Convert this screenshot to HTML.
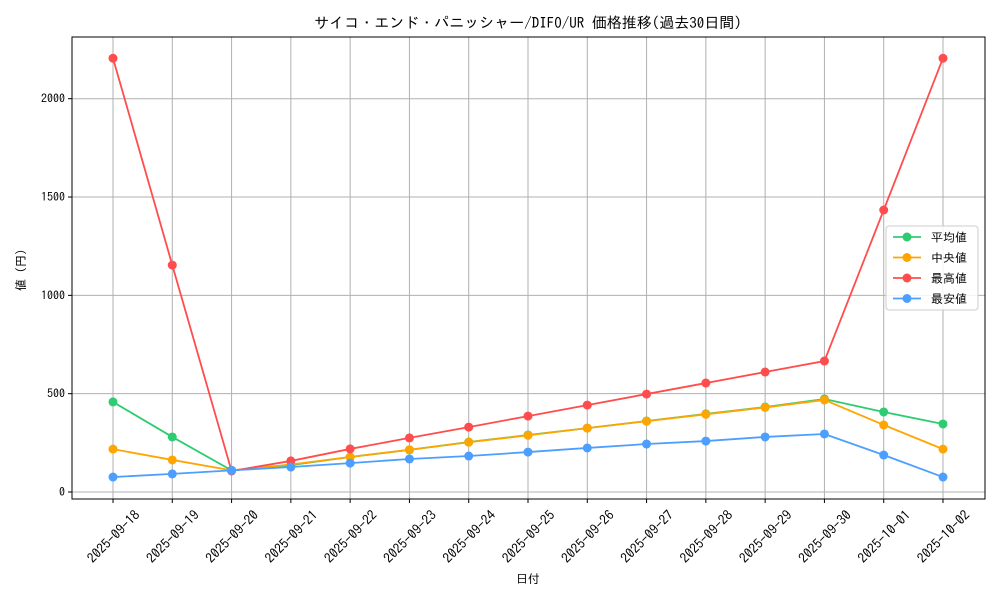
<!DOCTYPE html>
<html><head><meta charset="utf-8"><style>
body{margin:0;background:#fff;}
svg{font-family:"IPAGothic","Liberation Sans","Noto Sans CJK JP",sans-serif;}
</style></head><body>
<svg id="chart" width="1000" height="600" xmlns="http://www.w3.org/2000/svg"></svg>
<script>
const categories=["2025-09-18","2025-09-19","2025-09-20","2025-09-21","2025-09-22","2025-09-23","2025-09-24","2025-09-25","2025-09-26","2025-09-27","2025-09-28","2025-09-29","2025-09-30","2025-10-01","2025-10-02"];
const avgValues=[458,280,110,137,178,214,254,290,325,361,397,432,473,407,346];
const medianValues=[218,163,110,140,178,215,253,288,325,360,395,430,468,341,218];
const maxValues=[2206,1154,107,158,219,275,330,386,442,498,554,610,666,1434,2206];
const minValues=[76,92,110,127,147,168,183,203,224,244,259,280,295,188,76];
const yTicks=[0,500,1000,1500,2000];
const seriesNames=["平均値","中央値","最高値","最安値"];
const seriesColors=["#2ecc71","#ffa500","#ff4d4d","#4d9fff"];
const NS="http://www.w3.org/2000/svg";
const svg=document.getElementById('chart');
const L=72,R=985,T=37,B=499;
const x0=113,x1=943;
function xs(i){return x0+(x1-x0)*i/(categories.length-1);}
function ys(v){return 492-v*0.19665;}
function mk(tag,attrs,parent){const e=document.createElementNS(NS,tag);for(const k in attrs)e.setAttribute(k,attrs[k]);(parent||svg).appendChild(e);return e;}
categories.forEach((c,i)=>{const g=mk('line',{x1:xs(i),x2:xs(i),y1:T,y2:B,stroke:'#b0b0b0','stroke-width':1});

});
yTicks.forEach(v=>{const g=mk('line',{x1:L,x2:R,y1:ys(v),y2:ys(v),stroke:'#b0b0b0','stroke-width':1});

});
const frame=mk('rect',{x:L,y:T,width:R-L,height:B-T,fill:'none',stroke:'#000','stroke-width':1});


yTicks.forEach(v=>{mk('line',{x1:L-4,x2:L,y1:ys(v),y2:ys(v),stroke:'#000'});
const t=mk('text',{x:L-7,y:ys(v)+4,'text-anchor':'end','font-size':12});t.textContent=v;

});
categories.forEach((c,i)=>{mk('line',{x1:xs(i),x2:xs(i),y1:B,y2:B+4,stroke:'#000'});
const cx=xs(i)+1,cy=B+38;
const t=mk('text',{x:cx,y:cy+4,'text-anchor':'middle','font-size':13.5,transform:`rotate(-45 ${cx} ${cy})`});t.textContent=c;

});
[avgValues,medianValues,maxValues,minValues].forEach((arr,s)=>{
const p=mk('polyline',{points:arr.map((v,i)=>xs(i)+','+ys(v)).join(' '),fill:'none',stroke:seriesColors[s],'stroke-width':1.8});


arr.forEach((v,i)=>{const c=mk('circle',{cx:xs(i),cy:ys(v),r:4.5,fill:seriesColors[s]});

});
});
let t=mk('text',{x:528,y:28,'text-anchor':'middle','font-size':15});t.textContent='サイコ・エンド・パニッシャー/DIFO/UR 価格推移(過去30日間)';


t=mk('text',{x:528,y:583,'text-anchor':'middle','font-size':12});t.textContent='日付';


t=mk('text',{x:25,y:270,'text-anchor':'middle','font-size':12,transform:'rotate(-90 25 270)'});t.textContent='値 (円)';


const lg=mk('g',{});


mk('rect',{x:886,y:226,width:92,height:84,rx:3,fill:'#fff','fill-opacity':0.85,stroke:'#ccc'},lg);
seriesNames.forEach((n,i)=>{const y=237+i*20.5;
mk('line',{x1:893,x2:921,y1:y,y2:y,stroke:seriesColors[i],'stroke-width':1.8},lg);
mk('circle',{cx:907,cy:y,r:4.5,fill:seriesColors[i]},lg);
const e=mk('text',{x:931,y:y+4.5,'font-size':12},lg);e.textContent=n;

});
</script>
</body></html>
